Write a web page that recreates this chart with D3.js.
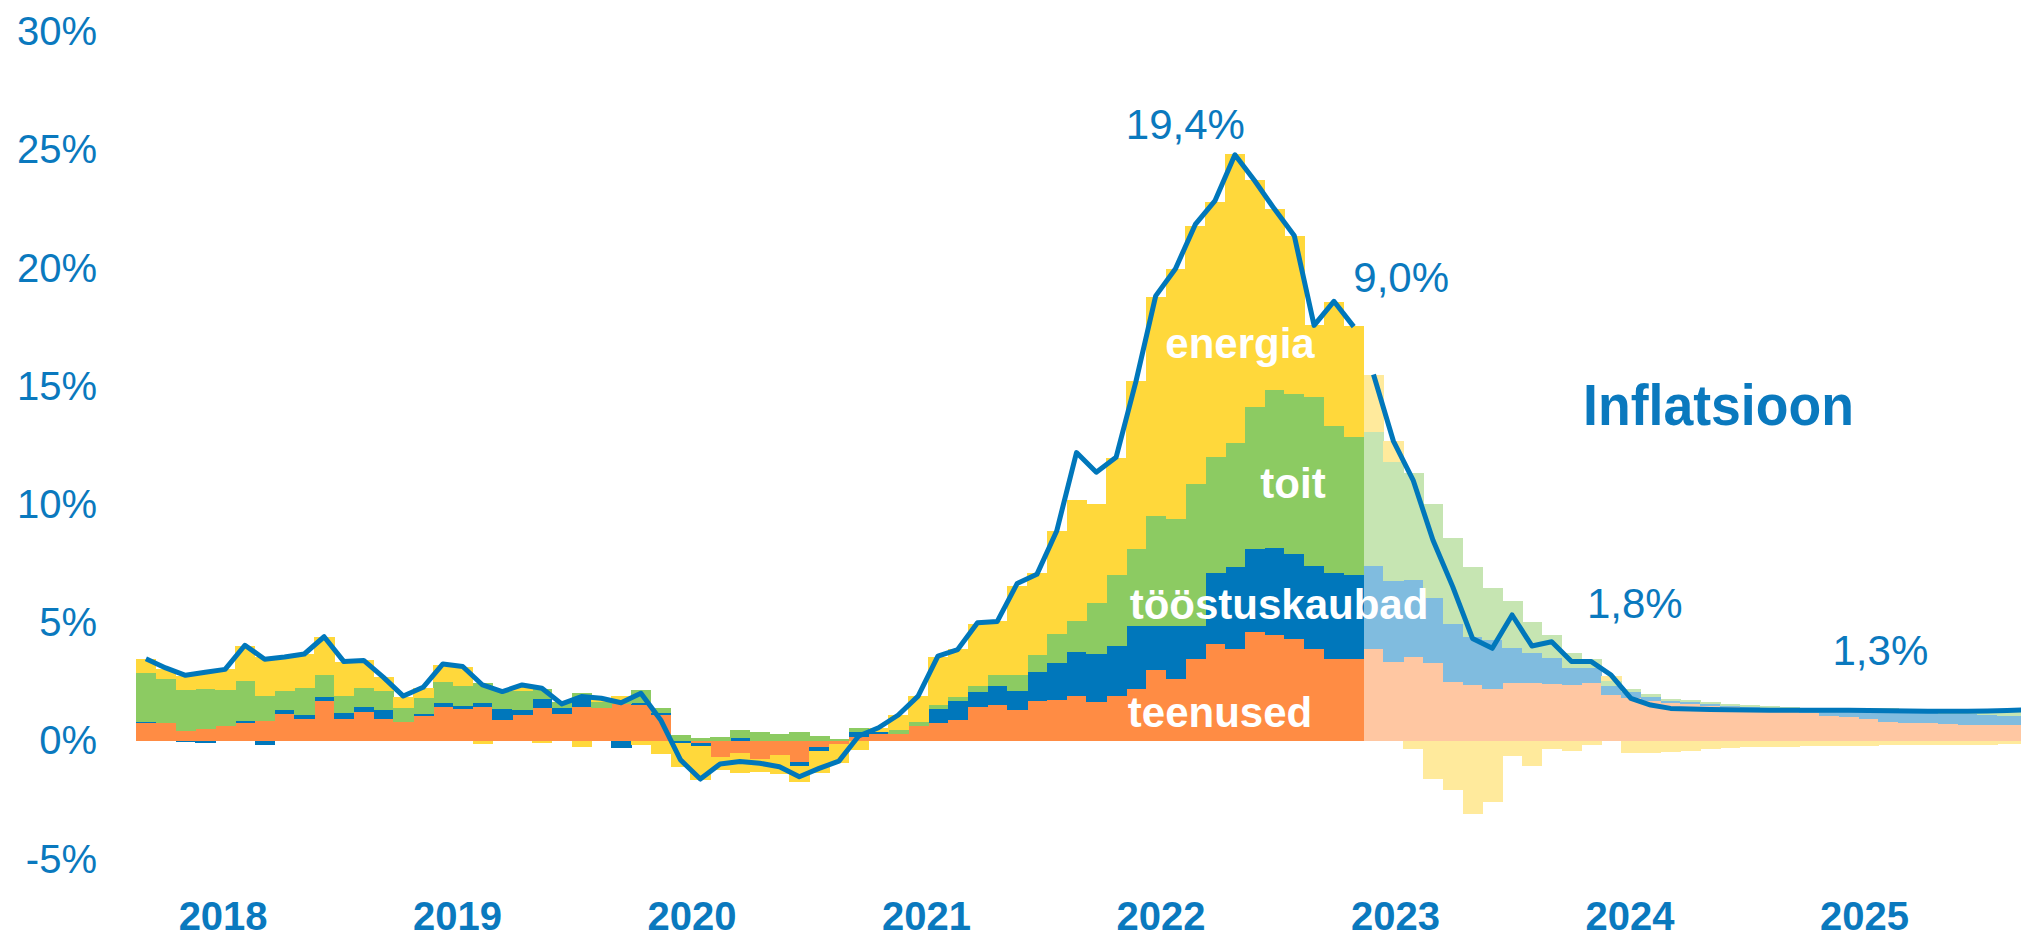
<!DOCTYPE html>
<html>
<head>
<meta charset="utf-8" />
<title>Inflatsioon</title>
<style>
body { margin: 0; background: #fff; }
#graph { width: 2021px; height: 940px; font-family: "Liberation Sans", Arial, sans-serif; }
</style>
</head>
<body>
<div id="graph"></div>
<script src="https://cdnjs.cloudflare.com/ajax/libs/d3/7.8.5/d3.min.js"></script>
<script>
// monthly contributions to HICP inflation, Jan 2018 - Dec 2025 (forecast from Mar 2023)
var teenused = [0.75,0.75,0.44,0.51,0.63,0.75,0.85,1.14,0.94,1.68,0.93,1.21,
  0.93,0.79,1.07,1.44,1.35,1.44,0.9,1.1,1.41,1.14,1.45,1.41,
  1.55,1.52,1.11,0,-0.1,-0.66,-0.52,-0.78,-0.59,-0.87,-0.24,-0.13,
  0.18,0.3,0.3,0.62,0.75,0.89,1.42,1.51,1.33,1.69,1.74,1.9,
  1.65,1.9,2.22,3.02,2.61,3.46,4.12,3.91,4.62,4.48,4.3,3.9,
  3.46,3.46,3.88,3.36,3.57,3.29,2.51,2.37,2.19,2.44,2.47,2.41,
  2.37,2.47,1.95,1.83,1.71,1.6,1.55,1.48,1.42,1.38,1.34,1.28,
  1.2,1.06,1.0,0.92,0.82,0.78,0.75,0.72,0.69,0.66,0.66,0.66]
var toostuskaubad = [0.05,0,-0.03,-0.07,0,0.08,-0.17,0.17,0.16,0.18,0.25,0.21,
  0.38,0.03,0.07,0.17,0.11,0.17,0.47,0.21,0.37,0.27,0.32,0,
  -0.3,0.07,0.08,-0.07,-0.1,0,0.11,0,0,-0.17,-0.17,0,
  0.21,0.06,0,0,0.62,0.8,0.66,0.8,0.8,1.24,1.55,1.86,
  2.02,2.13,2.66,1.86,2.27,1.42,2.98,3.43,3.5,3.7,3.6,3.5,
  3.64,3.55,3.53,3.41,3.24,2.78,2.44,2.05,2.09,1.48,1.24,1.09,
  0.71,0.61,0.38,0.25,0.17,0.11,0.1,0.08,0.07,0.07,0.07,0.09,
  0.15,0.25,0.31,0.42,0.52,0.47,0.42,0.42,0.44,0.44,0.41,0.4]
var toit = [2.07,1.89,1.71,1.69,1.51,1.69,1.07,0.82,1.16,0.92,0.72,0.83,
  0.8,0.58,0.66,0.9,0.86,0.83,0.75,0.8,0.42,0.25,0.24,0.25,
  0.2,0.56,0.21,0.25,0.11,0.17,0.35,0.39,0.3,0.37,0.23,0.08,
  0.17,0,0.17,0.18,0.14,0.18,0.23,0.48,0.66,0.71,1.24,1.33,
  2.18,2.98,3.23,4.62,4.53,6.0,4.92,5.28,6.0,6.66,6.78,7.16,
  6.22,5.86,5.68,5.05,4.54,3.96,3.62,2.96,2.19,2.0,1.34,0.99,
  0.63,0.38,0.2,0.14,0.11,0.08,0.07,0.08,0.07,0.06,0.05,0.05,
  0.04,0.05,0.05,0.06,0.06,0.1,0.11,0.13,0.14,0.14,0.17,0.18]
var energia = [0.58,0.4,0.61,0.66,0.89,1.51,1.62,1.44,1.42,1.61,1.45,1.16,
  0.58,0.45,0.45,0.7,0.79,-0.13,0,0.2,-0.1,0,-0.24,0.15,
  0.15,-0.17,-0.54,-1.04,-1.45,-0.56,-0.85,-0.52,-0.8,-0.68,-0.96,-0.82,
  -0.38,0.2,0.63,1.1,2.04,2.04,2.66,2.27,3.76,3.46,4.35,5.1,
  4.18,4.97,7.1,9.3,10.57,10.9,10.8,12.2,9.6,7.66,6.7,3.02,
  5.27,4.67,2.4,0.87,-0.35,-1.62,-2.07,-3.1,-2.57,-0.63,-1.06,-0.35,
  -0.41,-0.17,0.2,-0.52,-0.49,-0.45,-0.41,-0.35,-0.31,-0.27,-0.25,-0.24,
  -0.23,-0.22,-0.21,-0.2,-0.19,-0.19,-0.18,-0.17,-0.16,-0.15,-0.14,-0.13]
var inflatsioon = [3.48,3.09,2.78,2.91,3.03,4.05,3.46,3.55,3.68,4.41,3.36,3.41,
  2.69,1.9,2.27,3.26,3.15,2.37,2.09,2.37,2.23,1.57,1.88,1.81,
  1.62,2.02,0.89,-0.8,-1.61,-0.97,-0.87,-0.94,-1.09,-1.51,-1.16,-0.85,
  0.21,0.56,1.1,1.9,3.59,3.87,5.0,5.06,6.66,7.05,8.88,12.2,
  11.37,12.0,15.2,18.83,19.98,21.85,22.86,24.8,23.7,22.5,21.37,17.58,
  18.6,17.53,15.5,12.7,11.04,8.5,6.53,4.34,3.92,5.33,4.02,4.2,
  3.36,3.36,2.79,1.8,1.52,1.38,1.35,1.33,1.32,1.31,1.3,1.3,
  1.3,1.3,1.3,1.29,1.28,1.27,1.26,1.26,1.26,1.27,1.29,1.32]
var forecastStart = 62
var years = ["2018","2019","2020","2021","2022","2023","2024","2025"]
var yTicks = [-5,0,5,10,15,20,25,30]
var annualText = ["19,4%", "9,0%", "1,8%", "1,3%"]
// label placement: month position along the axis and height in % units
var annualMonth = [53.0, 63.9, 75.7, 88.1]
var annualValue = [25.45, 19.0, 5.2, 3.2]

!(function(){
  "use strict"

  var width = 2021, height = 940
  var blue = "#0a79be"
  var keys = ["teenused", "toostuskaubad", "toit", "energia"]
  var colors = {teenused: "#ff8c44", toostuskaubad: "#0077bb", toit: "#8ccb62", energia: "#ffd83b"}
  var lightColors = {teenused: "#ffc7a2", toostuskaubad: "#80bcdf", toit: "#c6e5b2", energia: "#ffea9c"}

  var data = teenused.map(function(v, i){
    return {i: i, teenused: v, toostuskaubad: toostuskaubad[i], toit: toit[i], energia: energia[i], total: inflatsioon[i]}
  })

  var svg = d3.select("#graph").append("svg").attr("width", width).attr("height", height)

  var xScale = d3.scaleBand().domain(d3.range(data.length)).range([136, 136 + data.length * 19.8]).padding(0)
  var yScale = d3.scaleLinear().domain([-5, 30]).range([741 + 5 * 23.64, 741 - 30 * 23.64])
  var bw = xScale.bandwidth()

  // y axis labels
  var yAxis = d3.axisLeft(yScale).tickValues(yTicks).tickSize(0).tickPadding(0)
    .tickFormat(function(d){ return d + "%" })
  svg.append("g").attr("class", "axis y")
    .attr("transform", "translate(97,0)")
    .call(yAxis)
    .call(function(g){ g.select(".domain").remove() })
    .selectAll("text")
      .attr("fill", blue).attr("font-size", 40).attr("font-family", "Liberation Sans, Arial, sans-serif")

  // stacked contributions
  var series = d3.stack().keys(keys).offset(d3.stackOffsetDiverging)(data)
  var chartLayer = svg.append("g")
  series.forEach(function(s){
    chartLayer.append("g").selectAll("rect").data(s).enter().append("rect")
      .attr("x", function(d, i){ return xScale(i) })
      .attr("width", bw + 0.6)
      .attr("y", function(d){ return yScale(Math.max(d[0], d[1])) })
      .attr("height", function(d){ return Math.abs(yScale(d[0]) - yScale(d[1])) })
      .attr("fill", function(d, i){ return i >= forecastStart ? lightColors[s.key] : colors[s.key] })
      .attr("shape-rendering", "crispEdges")
  })

  // inflation line, actual and forecast
  var line = d3.line()
    .x(function(d){ return xScale(d.i) + bw / 2 })
    .y(function(d){ return yScale(d.total) })
  var parts = [data.slice(0, forecastStart), data.slice(forecastStart)]
  svg.append("g").selectAll("path").data(parts).enter().append("path")
    .attr("d", line)
    .attr("fill", "none")
    .attr("stroke", "#0077bb")
    .attr("stroke-width", 5)
    .attr("stroke-linejoin", "round")

  // year labels
  var monthPos = d3.scaleLinear().domain([0, 7]).range([4.4, 87.3])
  svg.append("g").selectAll("text").data(years).enter().append("text")
    .attr("x", function(d, i){ return xScale(0) + monthPos(i) * bw })
    .attr("y", 930)
    .attr("text-anchor", "middle")
    .attr("font-size", 40).attr("font-weight", "bold")
    .attr("fill", blue)
    .text(function(d){ return d })

  // component labels
  var inner = [
    {text: "energia", x: 1240, v: 16.2},
    {text: "toit", x: 1293, v: 10.3},
    {text: "tööstuskaubad", x: 1279, v: 5.14},
    {text: "teenused", x: 1220, v: 0.59}
  ]
  svg.append("g").selectAll("text").data(inner).enter().append("text")
    .attr("x", function(d){ return d.x })
    .attr("y", function(d){ return yScale(d.v) })
    .attr("text-anchor", "middle")
    .attr("font-size", 42).attr("font-weight", "bold")
    .attr("fill", "#fff")
    .text(function(d){ return d.text })

  // annual averages
  svg.append("g").selectAll("text").data(annualText).enter().append("text")
    .attr("x", function(d, i){ return xScale(0) + annualMonth[i] * bw })
    .attr("y", function(d, i){ return yScale(annualValue[i]) })
    .attr("text-anchor", "middle")
    .attr("font-size", 42)
    .attr("fill", blue)
    .text(function(d){ return d })

  svg.append("text")
    .attr("x", 1583).attr("y", 425)
    .attr("font-size", 58).attr("font-weight", "bold")
    .attr("fill", blue)
    .attr("textLength", 271).attr("lengthAdjust", "spacingAndGlyphs")
    .text("Inflatsioon")
}());
</script>
</body>
</html>
